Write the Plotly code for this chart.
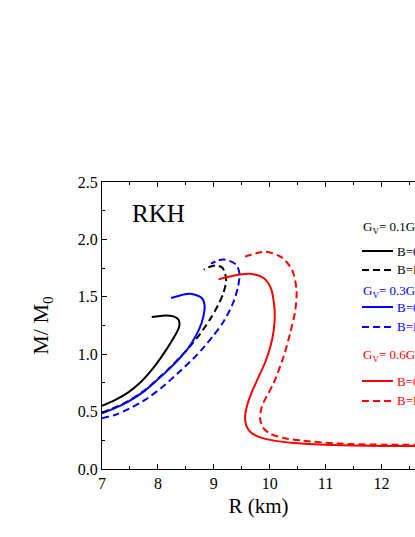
"""Mass-radius curves, RKH model, for three vector couplings with and without B."""

import plotly.graph_objects as go

# G_V = 0.1 G_S
black_solid_r = [7.0, 7.23, 7.47, 7.68, 7.86, 7.99, 8.16, 8.30, 8.38, 8.37, 8.28, 8.13, 7.89]
black_solid_m = [0.55, 0.60, 0.667, 0.751, 0.846, 0.927, 1.046, 1.158, 1.238, 1.30, 1.329, 1.338, 1.324]
black_dash_r = [7.0, 7.23, 7.47, 7.77, 8.01, 8.20, 8.38, 8.56, 8.76, 8.94, 9.08, 9.17, 9.22, 9.20, 9.15, 9.05, 8.93, 8.82]
black_dash_m = [0.492, 0.536, 0.592, 0.688, 0.79, 0.875, 0.965, 1.06, 1.18, 1.31, 1.43, 1.53, 1.635, 1.708, 1.755, 1.772, 1.762, 1.737]

# G_V = 0.3 G_S
blue_solid_r = [7.0, 7.23, 7.47, 7.77, 8.01, 8.20, 8.38, 8.54, 8.68, 8.78, 8.83, 8.834, 8.786, 8.577, 8.236]
blue_solid_m = [0.486, 0.53, 0.587, 0.683, 0.785, 0.87, 0.96, 1.05, 1.16, 1.27, 1.37, 1.431, 1.49, 1.527, 1.49]
blue_dash_r = [7.0, 7.23, 7.47, 7.77, 8.07, 8.37, 8.64, 8.82, 8.99, 9.17, 9.34, 9.43, 9.46, 9.40, 9.17, 8.95]
blue_dash_m = [0.442, 0.471, 0.521, 0.602, 0.71, 0.84, 0.965, 1.06, 1.16, 1.28, 1.44, 1.58, 1.70, 1.78, 1.826, 1.79]

# G_V = 0.6 G_S
red_solid_r = [12.7, 12.0, 11.5, 10.91, 10.5, 10.1, 9.83, 9.66, 9.58, 9.56, 9.60, 9.68, 9.80, 9.92, 10.02, 10.07,
               10.09, 10.08, 10.02, 9.89, 9.65, 9.35, 9.085]
red_solid_m = [0.200, 0.201, 0.205, 0.213, 0.225, 0.245, 0.275, 0.32, 0.38, 0.456, 0.56, 0.67, 0.80, 0.93, 1.08, 1.20,
               1.32, 1.43, 1.577, 1.664, 1.70, 1.684, 1.652]
red_dash_r = [12.7, 12.0, 11.21, 10.6, 10.25, 10.0, 9.88, 9.83, 9.86, 10.07, 10.25, 10.37, 10.46, 10.48, 10.40, 10.21,
              9.92, 9.56]
red_dash_m = [0.21, 0.212, 0.222, 0.247, 0.27, 0.31, 0.36, 0.435, 0.544, 0.748, 0.98, 1.19, 1.39, 1.562, 1.736, 1.845,
              1.892, 1.85]

legend_titles = ["G<sub>V</sub>= 0.1G<sub>S</sub>", "G<sub>V</sub>= 0.3G<sub>S</sub>", "G<sub>V</sub>= 0.6G<sub>S</sub>"]
legend_labels = ["B=0", "B=B<sub>max</sub>"]

FONT = "Liberation Serif, Times New Roman, serif"
DASH = "7px,4px"

fig = go.Figure()

curves = [
    (black_solid_r, black_solid_m, "black", "solid"),
    (black_dash_r, black_dash_m, "black", DASH),
    (blue_solid_r, blue_solid_m, "#0000FF", "solid"),
    (blue_dash_r, blue_dash_m, "#0000FF", DASH),
    (red_solid_r, red_solid_m, "#FF0000", "solid"),
    (red_dash_r, red_dash_m, "#FF0000", DASH),
]
for r, m, color, dash in curves:
    fig.add_trace(
        go.Scatter(
            x=r, y=m, mode="lines", showlegend=False, hoverinfo="skip",
            line=dict(color=color, width=2, dash=dash, shape="spline", smoothing=0.8),
        )
    )


# hand-made legend, laid out like the original (partly cut at the right edge)
def py(p):
    return (469 - p) / 287


def px(p):
    return (p - 102) / 313


colors = ["black", "#0000FF", "#FF0000"]
title_rows = [225, 289, 353]
line_rows = [(251, 270), (307, 327), (381, 401)]
for title, color, ty, rows in zip(legend_titles, colors, title_rows, line_rows):
    fig.add_annotation(
        x=px(361), y=py(ty + 2), xref="paper", yref="paper", text=title,
        showarrow=False, xanchor="left", yanchor="middle",
        font=dict(family=FONT, size=13, color=color),
    )
    for row, label, dash in zip(rows, legend_labels, ["solid", DASH]):
        fig.add_shape(
            type="line", xref="paper", yref="paper",
            x0=px(362), x1=px(393), y0=py(row), y1=py(row),
            line=dict(color=color, width=2, dash=dash),
        )
        fig.add_annotation(
            x=px(395), y=py(row), xref="paper", yref="paper", text=label,
            showarrow=False, xanchor="left", yanchor="middle",
            font=dict(family=FONT, size=13, color=color),
        )

fig.add_annotation(
    x=px(130), y=py(213), xref="paper", yref="paper", text="RKH",
    showarrow=False, xanchor="left", yanchor="middle",
    font=dict(family=FONT, size=25, color="black"),
)

axis_common = dict(
    showline=True, linecolor="black", linewidth=1.3,
    ticks="inside", ticklen=5, tickwidth=1.2, tickcolor="black",
    showgrid=False, zeroline=False,
    tickfont=dict(family=FONT, size=16, color="black"),
)

fig.update_xaxes(
    **axis_common,
    range=[7, 12.6], dtick=1, tick0=7, mirror="ticks",
    minor=dict(dtick=0.5, ticks="inside", ticklen=3, tickwidth=1.2, tickcolor="black", showgrid=False),
    title=dict(text="R (km)", font=dict(family=FONT, size=21, color="black"), standoff=6),
)
fig.update_yaxes(
    **axis_common,
    range=[0, 2.5], dtick=0.5, tickformat=".1f", mirror=False,
    minor=dict(dtick=0.25, ticks="inside", ticklen=3, tickwidth=1.2, tickcolor="black", showgrid=False),
    title=dict(text="M/ M<sub>0</sub>", font=dict(family=FONT, size=22, color="black"), standoff=22),
)

fig.update_layout(
    width=415, height=537,
    margin=dict(l=102, r=0, t=182, b=68),
    plot_bgcolor="white", paper_bgcolor="white",
)

fig.write_html(
    "out.html",
    config={"displayModeBar": False},
    post_script="document.body.style.margin='0px'; document.body.style.overflow='hidden';",
)
